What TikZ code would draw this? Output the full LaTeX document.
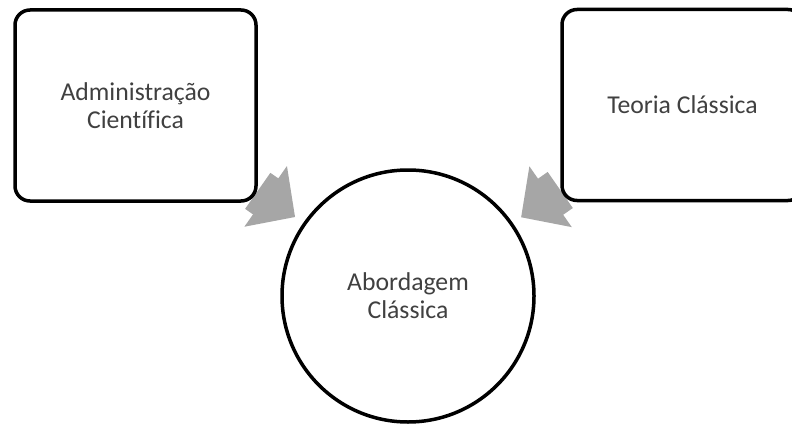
\documentclass[tikz,border=0pt]{standalone}
\usepackage{fontspec}
\setmainfont[Ligatures={NoCommon}]{Carlito}
\usetikzlibrary{arrows.meta,backgrounds}
\definecolor{arrowgray}{HTML}{A6A6A6}
\definecolor{textgray}{HTML}{404040}
\tikzset{
  box/.style={draw, line width=3.5pt, rounded corners=15pt, fill=white,
    minimum width=241pt, minimum height=191pt, align=center,
    text=textgray, font=\fontsize{25.7}{28}\selectfont},
  bigcircle/.style={draw, circle, line width=3.5pt, fill=white,
    minimum size=252pt, align=center,
    text=textgray, font=\fontsize{25.7}{28}\selectfont},
  fatarrow/.style={arrowgray, line width=44pt,
    -{Triangle[length=36pt,width=72pt]}, shorten >=10pt}
}
\begin{document}
\begin{tikzpicture}[x=1pt,y=1pt]
\useasboundingbox (0,0) rectangle (792,424);

\node[box] (adm) at (135.5,318.5) {Administração\\Científica};
\node[box] (teo) at (682.5,319) {Teoria Clássica};
\node[bigcircle] (abo) at (408,128) {Abordagem\\Clássica};

\begin{scope}[on background layer]
\draw[fatarrow] (adm) -- (abo);
\draw[fatarrow] (teo) -- (abo);
\end{scope}

\end{tikzpicture}
\end{document}
